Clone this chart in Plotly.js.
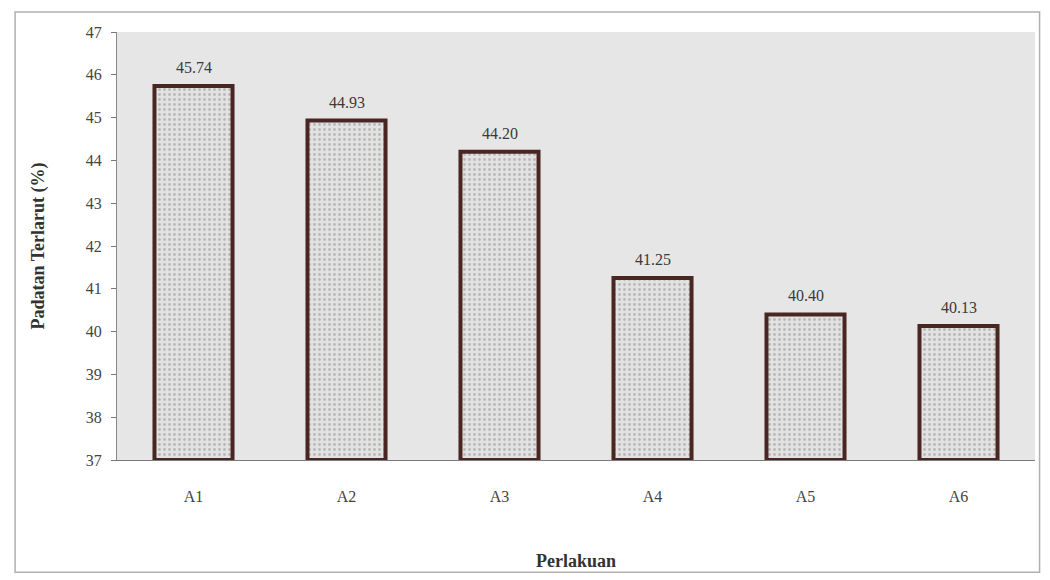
<!DOCTYPE html>
<html>
<head>
<meta charset="utf-8">
<script src="https://cdn.plot.ly/plotly-3.0.1.min.js"></script>
<style>html,body{margin:0;padding:0;background:#fff;}#chart{width:1050px;height:580px;}</style>
</head>
<body>
<div id="chart"></div>
<script>
const categories = ["A1", "A2", "A3", "A4", "A5", "A6"];
const values = [45.74, 44.93, 44.20, 41.25, 40.40, 40.13];
const yTicks = [37, 38, 39, 40, 41, 42, 43, 44, 45, 46, 47];
const baseValue = 37;

const serif = "Liberation Serif, Times New Roman, serif";

const trace = {
  type: "bar",
  x: categories,
  y: values.map(v => v - baseValue),
  base: baseValue,
  hoverinfo: "skip",
  marker: {
    color: "#dcdcdc",
    line: {color: "#4a2622", width: 4},
    pattern: {shape: ".", fgcolor: "#b8b8b8", bgcolor: "#e2e2e2", size: 5, solidity: 0.25}
  }
};

const labelAnnotations = categories.map((c, i) => ({
  x: c, y: values[i], xref: "x", yref: "y",
  text: values[i].toFixed(2),
  showarrow: false, yanchor: "bottom", yshift: 8,
  font: {family: serif, size: 16, color: "#3a3a3a"}
}));

const layout = {
  width: 1050, height: 580,
  margin: {l: 117, r: 15, t: 32, b: 120},
  paper_bgcolor: "#ffffff",
  plot_bgcolor: "#e6e6e6",
  bargap: 0.49,
  showlegend: false,
  font: {family: serif, color: "#333"},
  xaxis: {
    type: "category",
    tickfont: {family: serif, size: 16, color: "#444"},
    ticks: "outside", ticklen: 0,
    ticklabelstandoff: 22,
    showline: true, linecolor: "#7a7a7a", linewidth: 1,
    showgrid: false,
    title: {text: "<b>Perlakuan</b>", font: {family: serif, size: 18, color: "#333"}, standoff: 50}
  },
  yaxis: {
    range: [37, 47],
    tickvals: yTicks,
    tickfont: {family: serif, size: 16, color: "#444"},
    ticks: "outside", ticklen: 5, tickcolor: "#777",
    ticklabelstandoff: 6,
    showline: true, linecolor: "#888", linewidth: 1,
    showgrid: false, zeroline: false,
    title: {text: "<b>Padatan Terlarut (%)</b>", font: {family: serif, size: 18, color: "#333"}, standoff: 36}
  },
  annotations: labelAnnotations,
  shapes: [{
    type: "rect", xref: "paper", yref: "paper",
    x0: -0.111, x1: 1.005, y0: -0.262, y1: 1.047,
    line: {color: "#b0b0b0", width: 1.5}
  }]
};

Plotly.newPlot("chart", [trace], layout, {displayModeBar: false, staticPlot: true});
</script>
</body>
</html>
